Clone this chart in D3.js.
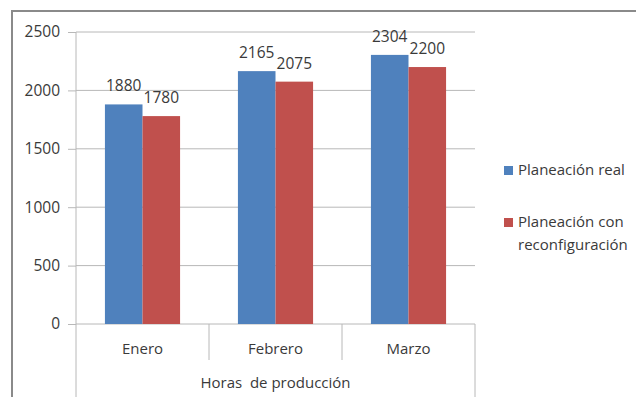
<!DOCTYPE html>
<html>
<head>
<meta charset="utf-8">
<script src="https://cdn.jsdelivr.net/npm/d3@7"></script>
<style>
  html, body { margin: 0; padding: 0; background: #fff; }
  svg { display: block; }
  text { font-family: "Open Sans", "Noto Sans", sans-serif; fill: #3a3a3a; }
</style>
</head>
<body>
<svg id="chart" width="636" height="397"></svg>
<script>
// Production hours by month: actual plan vs. plan with reconfiguration
const months = ["Enero", "Febrero", "Marzo"];
const seriesNames = ["Planeación real", "Planeación con reconfiguración"];
const planReal = [1880, 2165, 2304];
const planReconfig = [1780, 2075, 2200];
const yTicks = [0, 500, 1000, 1500, 2000, 2500];
const groupTitle = "Horas  de producción";
const colors = ["#4f81bd", "#c0504d"];

const svg = d3.select("#chart");
const W = 636, H = 397;
const plot = { left: 76, right: 475, top: 32, bottom: 324 };

// Outer frame
svg.append("rect").attr("x", 0).attr("y", 0).attr("width", W).attr("height", H).attr("fill", "#fff");
svg.append("path")
  .attr("d", `M12,${H} V11 H${W}`)
  .attr("fill", "none").attr("stroke", "#8a8a8a").attr("stroke-width", 2);

const x0 = d3.scaleBand().domain(months).range([plot.left, plot.right]).paddingInner(0).paddingOuter(0);
const x1 = d3.scaleBand().domain([0, 1]).range([0, x0.bandwidth()]).paddingInner(0).paddingOuter(0.77);
const y = d3.scaleLinear().domain([0, 2500]).range([plot.bottom, plot.top]);

// Y axis with gridlines
const yAxis = d3.axisLeft(y).tickValues(yTicks).tickFormat(d3.format("d")).tickSize(8).tickPadding(8);
const yg = svg.append("g").attr("transform", `translate(${plot.left},0)`).call(yAxis);
yg.select(".domain").remove();
yg.selectAll(".tick line").attr("stroke", "#b8b8b8");
yg.selectAll(".tick text").style("font-size", "15.5px").attr("fill", "#3a3a3a")
  .style("font-family", '"Open Sans", sans-serif');
svg.append("g").selectAll("line").data(yTicks).join("line")
  .attr("x1", plot.left).attr("x2", plot.right)
  .attr("y1", d => y(d)).attr("y2", d => y(d))
  .attr("stroke", "#b8b8b8").attr("stroke-width", 1);

// Vertical axis line and multi-level category boundaries
svg.append("line").attr("x1", plot.left).attr("x2", plot.left)
  .attr("y1", plot.top).attr("y2", H).attr("stroke", "#b8b8b8");
svg.append("line").attr("x1", plot.right).attr("x2", plot.right)
  .attr("y1", plot.bottom).attr("y2", H).attr("stroke", "#b8b8b8");
svg.append("g").selectAll("line").data(months.slice(1)).join("line")
  .attr("x1", d => x0(d)).attr("x2", d => x0(d))
  .attr("y1", plot.bottom).attr("y2", plot.bottom + 36)
  .attr("stroke", "#b8b8b8");

// Bars
const rows = months.map((m, i) => ({ month: m, values: [planReal[i], planReconfig[i]] }));
const groups = svg.append("g").selectAll("g").data(rows).join("g")
  .attr("transform", d => `translate(${x0(d.month)},0)`);
groups.selectAll("rect").data(d => d.values.map((v, k) => ({ k, v }))).join("rect")
  .attr("x", d => x1(d.k))
  .attr("width", x1.bandwidth())
  .attr("y", d => y(d.v))
  .attr("height", d => y(0) - y(d.v))
  .attr("fill", d => colors[d.k]);
groups.selectAll("text").data(d => d.values.map((v, k) => ({ k, v }))).join("text")
  .attr("x", d => x1(d.k) + x1.bandwidth() / 2)
  .attr("y", d => y(d.v) - 13)
  .attr("text-anchor", "middle")
  .style("font-size", "15.5px")
  .text(d => d.v);

// Category labels
svg.append("g").selectAll("text").data(months).join("text")
  .attr("x", d => x0(d) + x0.bandwidth() / 2)
  .attr("y", 354)
  .attr("text-anchor", "middle")
  .style("font-size", "15px")
  .text(d => d);
svg.append("text")
  .attr("x", (plot.left + plot.right) / 2)
  .attr("y", 388)
  .attr("text-anchor", "middle")
  .style("font-size", "15px")
  .style("white-space", "pre")
  .text(groupTitle);

// Legend
const legend = [
  { name: seriesNames[0], lines: ["Planeación real"], y: 166 },
  { name: seriesNames[1], lines: ["Planeación con", "reconfiguración"], y: 218 }
];
const lg = svg.append("g").selectAll("g").data(legend).join("g");
lg.append("rect").attr("x", 504).attr("y", d => d.y).attr("width", 9).attr("height", 9)
  .attr("fill", (d, i) => colors[i]);
lg.each(function (d) {
  d3.select(this).selectAll("text").data(d.lines).join("text")
    .attr("x", 518)
    .attr("y", (t, j) => d.y + 9 + j * 23)
    .style("font-size", "15px")
    .text(t => t);
});
</script>
</body>
</html>
